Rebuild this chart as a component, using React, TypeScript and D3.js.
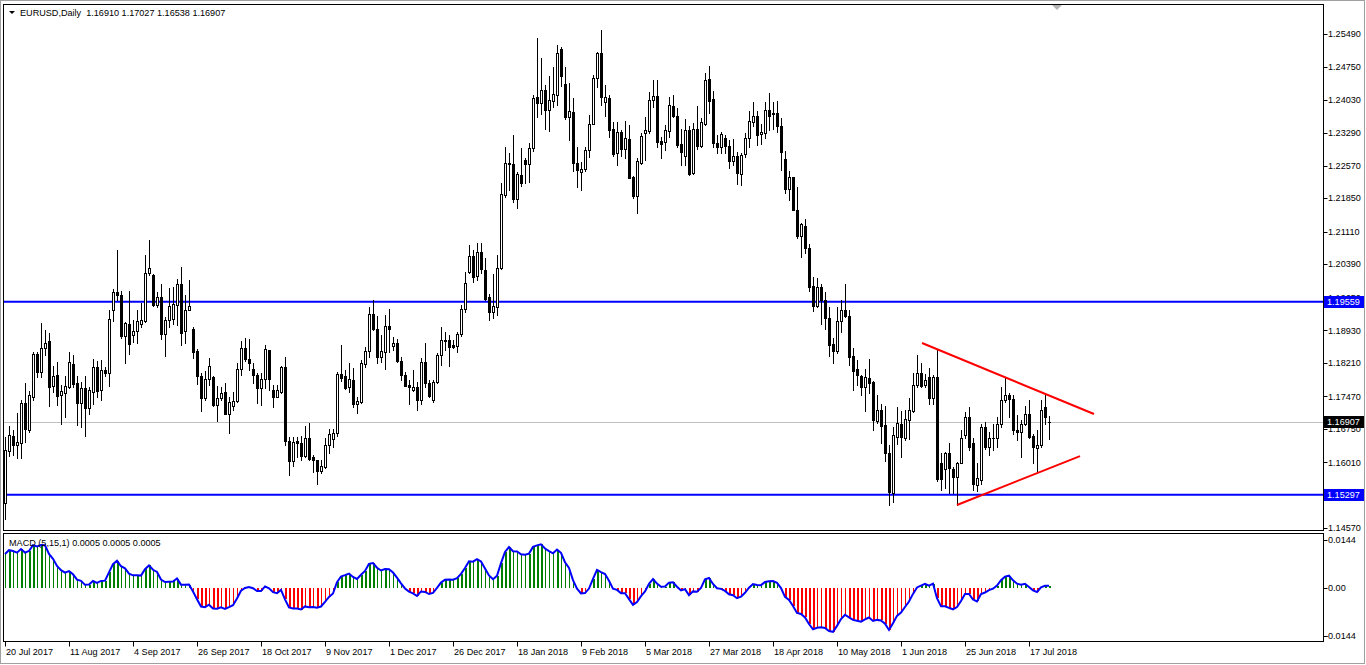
import React from 'react';
import * as d3 from 'd3';

// ---- Daily EURUSD candles (20 Jul 2017 .. 24 Jul 2018) ----
const OPEN = [
1.1512,1.1627,1.1659,1.1639,1.1645,1.1732,1.1673,1.1745,1.1841,1.1800,
1.1855,1.1869,1.1771,1.1794,1.1751,1.1754,1.1768,1.1818,1.1776,1.1732,
1.1765,1.1721,1.1756,1.1811,1.1761,1.1805,1.1798,1.1939,1.1977,1.1971,
1.1881,1.1907,1.1882,1.1891,1.1908,1.1914,1.2019,1.2015,1.1950,1.1966,
1.1885,1.1916,1.1917,1.1949,1.1995,1.1892,1.1939,1.1897,1.1848,1.1792,
1.1743,1.1785,1.1789,1.1729,1.1744,1.1756,1.1709,1.1726,1.1737,1.1807,
1.1855,1.1829,1.1807,1.1794,1.1765,1.1785,1.1849,1.1762,1.1746,1.1757,
1.1811,1.1649,1.1605,1.1648,1.1645,1.1615,1.1656,1.1612,1.1606,1.1583,
1.1591,1.1639,1.1653,1.1665,1.1796,1.1791,1.1768,1.1783,1.1731,1.1735,
1.1818,1.1847,1.1929,1.1895,1.1835,1.1846,1.1902,1.1859,1.1864,1.1826,
1.1794,1.1772,1.1762,1.1768,1.1740,1.1824,1.1776,1.1740,1.1779,1.1838,
1.1870,1.1872,1.1860,1.1858,1.1884,1.1941,1.2022,1.2057,1.2013,1.2065,
1.2026,1.1967,1.1934,1.1945,1.2030,1.2192,1.2263,1.2260,1.2184,1.2236,
1.2269,1.2260,1.2295,1.2408,1.2395,1.2424,1.2381,1.2400,1.2413,1.2514,
1.2437,1.2365,1.2376,1.2262,1.2244,1.2249,1.2291,1.2350,1.2450,1.2505,
1.2398,1.2406,1.2338,1.2284,1.2332,1.2294,1.2315,1.2232,1.2190,1.2262,
1.2328,1.2333,1.2402,1.2411,1.2312,1.2310,1.2334,1.2389,1.2366,1.2304,
1.2279,1.2336,1.2240,1.2338,1.2301,1.2348,1.2448,1.2404,1.2306,1.2299,
1.2319,1.2300,1.2268,1.2278,1.2238,1.2283,1.2319,1.2354,1.2367,1.2326,
1.2330,1.2380,1.2374,1.2374,1.2345,1.2272,1.2205,1.2231,1.2160,1.2102,
1.2123,1.2074,1.1991,1.1947,1.1988,1.1960,1.1921,1.1863,1.1848,1.1914,
1.1939,1.1924,1.1836,1.1807,1.1792,1.1767,1.1787,1.1779,1.1693,1.1718,
1.1684,1.1622,1.1533,1.1658,1.1686,1.1656,1.1695,1.1715,1.1772,1.1798,
1.1772,1.1790,1.1743,1.1789,1.1600,1.1586,1.1621,1.1586,1.1569,1.1600,
1.1661,1.1702,1.1645,1.1552,1.1563,1.1680,1.1636,1.1656,1.1654,1.1687,
1.1739,1.1750,1.1742,1.1673,1.1669,1.1686,1.1708,1.1659,1.1634,1.1639,
1.1724,1.16910];

const HIGH = [
1.1658,1.1682,1.1673,1.1711,1.1739,1.1777,1.1759,1.1846,1.1846,1.1910,
1.1894,1.1886,1.1814,1.1823,1.1772,1.1791,1.1846,1.1838,1.1791,1.1779,
1.1791,1.1768,1.1830,1.1825,1.1827,1.1813,1.1939,1.1984,1.2071,1.1980,
1.1912,1.1980,1.1916,1.1939,1.1953,1.2059,1.2093,1.2018,1.1978,1.1995,
1.1922,1.1986,1.1989,1.2006,1.2034,1.1971,1.2004,1.1900,1.1852,1.1798,
1.1802,1.1831,1.1791,1.1770,1.1768,1.1777,1.1746,1.1757,1.1820,1.1870,
1.1877,1.1873,1.1820,1.1798,1.1798,1.1861,1.1850,1.1773,1.1772,1.1814,
1.1835,1.1658,1.1658,1.1658,1.1659,1.1682,1.1689,1.1617,1.1607,1.1607,
1.1654,1.1676,1.1676,1.1801,1.1860,1.1805,1.1820,1.1809,1.1746,1.1827,
1.1857,1.1945,1.1960,1.1925,1.1883,1.1927,1.1940,1.1879,1.1873,1.1835,
1.1801,1.1783,1.1805,1.1779,1.1831,1.1864,1.1783,1.1783,1.1842,1.1900,
1.1890,1.1883,1.1872,1.1890,1.1949,1.2023,1.2082,1.2070,1.2087,1.2085,
1.2052,1.1974,1.2017,1.2059,1.2218,1.2299,1.2284,1.2325,1.2243,1.2295,
1.2273,1.2306,1.2413,1.2538,1.2494,1.2435,1.2455,1.2476,1.2524,1.2520,
1.2476,1.2439,1.2406,1.2299,1.2265,1.2299,1.2369,1.2457,1.2508,1.2557,
1.2435,1.2413,1.2354,1.2354,1.2336,1.2356,1.2347,1.2235,1.2274,1.2328,
1.2365,1.2420,1.2446,1.2446,1.2321,1.2347,1.2409,1.2413,1.2384,1.2338,
1.2359,1.2345,1.2352,1.2389,1.2363,1.2462,1.2478,1.2423,1.2325,1.2332,
1.2325,1.2314,1.2315,1.2288,1.2284,1.2328,1.2378,1.2398,1.2378,1.2350,
1.2397,1.2417,1.2398,1.2400,1.2362,1.2289,1.2246,1.2232,1.2209,1.2131,
1.2138,1.2084,1.2010,1.2008,1.1995,1.1978,1.1945,1.1875,1.1945,1.1960,
1.1995,1.1938,1.1853,1.1827,1.1795,1.1807,1.1829,1.1781,1.1750,1.1730,
1.1726,1.1639,1.1680,1.1724,1.1715,1.1718,1.1743,1.1798,1.1838,1.1820,
1.1796,1.1809,1.1794,1.1851,1.1622,1.1625,1.1645,1.1591,1.1603,1.1673,
1.1713,1.1724,1.1654,1.1600,1.1687,1.1691,1.1669,1.1687,1.1702,1.1768,
1.1790,1.1755,1.1750,1.1706,1.1695,1.1726,1.1739,1.1664,1.1672,1.1740,
1.1750,1.17027];

const LOW = [
1.1477,1.1615,1.1617,1.1610,1.1610,1.1647,1.1669,1.1739,1.1789,1.1790,
1.1838,1.1726,1.1757,1.1729,1.1687,1.1702,1.1765,1.1768,1.1684,1.1680,
1.1660,1.1707,1.1730,1.1746,1.1739,1.1791,1.1770,1.1914,1.1960,1.1877,
1.1821,1.1841,1.1868,1.1866,1.1901,1.1912,1.2015,1.1947,1.1945,1.1873,
1.1837,1.1901,1.1908,1.1905,1.1860,1.1864,1.1938,1.1831,1.1774,1.1715,
1.1739,1.1772,1.1725,1.1692,1.1740,1.1708,1.1667,1.1717,1.1735,1.1794,
1.1826,1.1805,1.1777,1.1733,1.1729,1.1765,1.1762,1.1724,1.1745,1.1754,
1.1639,1.1573,1.1594,1.1614,1.1606,1.1612,1.1606,1.1580,1.1553,1.1577,
1.1588,1.1621,1.1636,1.1660,1.1782,1.1763,1.1757,1.1724,1.1711,1.1733,
1.1813,1.1835,1.1894,1.1821,1.1824,1.1807,1.1846,1.1849,1.1824,1.1783,
1.1770,1.1730,1.1760,1.1717,1.1731,1.1768,1.1746,1.1735,1.1776,1.1816,
1.1850,1.1814,1.1855,1.1846,1.1880,1.1934,1.2019,1.2000,1.2004,1.2019,
1.1960,1.1916,1.1921,1.1927,1.2028,1.2188,1.2203,1.2177,1.2164,1.2212,
1.2218,1.2221,1.2289,1.2364,1.2371,1.2337,1.2334,1.2386,1.2391,1.2434,
1.2361,1.2314,1.2246,1.2210,1.2204,1.2246,1.2277,1.2349,1.2431,1.2391,
1.2367,1.2320,1.2278,1.2258,1.2278,1.2273,1.2229,1.2186,1.2153,1.2260,
1.2269,1.2328,1.2386,1.2299,1.2273,1.2291,1.2321,1.2364,1.2299,1.2258,
1.2258,1.2236,1.2238,1.2293,1.2299,1.2347,1.2373,1.2299,1.2284,1.2286,
1.2284,1.2251,1.2258,1.2216,1.2214,1.2277,1.2299,1.2345,1.2302,1.2305,
1.2319,1.2336,1.2339,1.2332,1.2247,1.2196,1.2182,1.2159,1.2096,1.2054,
1.2063,1.1980,1.1936,1.1945,1.1908,1.1897,1.1836,1.1821,1.1842,1.1890,
1.1923,1.1816,1.1762,1.1772,1.1750,1.1715,1.1754,1.1673,1.1689,1.1643,
1.1604,1.1507,1.1514,1.1642,1.1614,1.1650,1.1652,1.1713,1.1768,1.1768,
1.1768,1.1731,1.1731,1.1561,1.1541,1.1544,1.1533,1.1533,1.1507,1.1599,
1.1656,1.1628,1.1540,1.1538,1.1553,1.1630,1.1617,1.1628,1.1636,1.1680,
1.1735,1.1702,1.1664,1.1650,1.1612,1.1684,1.1656,1.1600,1.1577,1.1636,
1.1687,1.16538];

const CLOSE = [
1.1628,1.1661,1.1639,1.1646,1.1732,1.1674,1.1749,1.1840,1.1800,1.1855,
1.1866,1.1768,1.1793,1.1748,1.1759,1.1770,1.1822,1.1774,1.1732,1.1765,
1.1721,1.1761,1.1811,1.1760,1.1805,1.1798,1.1919,1.1977,1.1972,1.1880,
1.1910,1.1862,1.1891,1.1914,1.1916,1.2019,1.2030,1.1950,1.1966,1.1885,
1.1916,1.1947,1.1951,1.1995,1.1888,1.1939,1.1947,1.1846,1.1791,1.1743,
1.1785,1.1815,1.1729,1.1744,1.1755,1.1709,1.1735,1.1737,1.1807,1.1855,
1.1829,1.1820,1.1794,1.1765,1.1785,1.1851,1.1785,1.1746,1.1761,1.1813,
1.1649,1.1605,1.1647,1.1643,1.1615,1.1656,1.1608,1.1606,1.1583,1.1593,
1.1639,1.1664,1.1665,1.1796,1.1787,1.1765,1.1785,1.1731,1.1737,1.1820,
1.1847,1.1929,1.1895,1.1835,1.1847,1.1902,1.1897,1.1864,1.1826,1.1794,
1.1771,1.1768,1.1768,1.1740,1.1824,1.1776,1.1748,1.1779,1.1838,1.1872,
1.1872,1.1857,1.1857,1.1884,1.1941,1.1997,1.2057,1.2011,1.2067,1.2028,
1.1963,1.1934,1.1946,1.2030,1.2194,1.2262,1.2260,1.2184,1.2238,1.2219,
1.2260,1.2297,1.2406,1.2396,1.2424,1.2381,1.2402,1.2415,1.2507,1.2454,
1.2365,1.2378,1.2262,1.2247,1.2249,1.2291,1.2350,1.2450,1.2505,1.2409,
1.2408,1.2336,1.2283,1.2332,1.2294,1.2317,1.2230,1.2190,1.2267,1.2322,
1.2336,1.2403,1.2410,1.2310,1.2304,1.2336,1.2391,1.2367,1.2302,1.2288,
1.2336,1.2238,1.2338,1.2301,1.2354,1.2446,1.2400,1.2308,1.2299,1.2326,
1.2301,1.2268,1.2278,1.2240,1.2280,1.2319,1.2356,1.2367,1.2325,1.2331,
1.2380,1.2367,1.2370,1.2345,1.2288,1.2205,1.2231,1.2160,1.2102,1.2129,
1.2074,1.1989,1.1947,1.1988,1.1960,1.1921,1.1860,1.1848,1.1914,1.1939,
1.1925,1.1835,1.1804,1.1794,1.1767,1.1789,1.1776,1.1695,1.1718,1.1682,
1.1622,1.1536,1.1661,1.1689,1.1658,1.1696,1.1717,1.1772,1.1798,1.1770,
1.1783,1.1743,1.1789,1.1564,1.1564,1.1621,1.1588,1.1569,1.1600,1.1656,
1.1701,1.1636,1.1553,1.1566,1.1680,1.1636,1.1656,1.1654,1.1687,1.1740,
1.1750,1.1741,1.1673,1.1669,1.1686,1.1709,1.1658,1.1636,1.1639,1.1718,
1.1701,1.16907];

const TIME_LABELS = ['20 Jul 2017', '11 Aug 2017', '4 Sep 2017', '26 Sep 2017', '18 Oct 2017',
  '9 Nov 2017', '1 Dec 2017', '26 Dec 2017', '18 Jan 2018', '9 Feb 2018', '5 Mar 2018',
  '27 Mar 2018', '18 Apr 2018', '10 May 2018', '1 Jun 2018', '25 Jun 2018', '17 Jul 2018'];
const TIME_LABEL_BARS = [0, 16, 32, 48, 64, 80, 96, 112, 128, 144, 160, 176, 192, 208, 224, 240, 256];

const PRICE_TICKS = [1.25490, 1.24750, 1.24030, 1.23290, 1.22570, 1.21850, 1.21110, 1.20390,
  1.19650, 1.18930, 1.18210, 1.17470, 1.16750, 1.16010, 1.15290, 1.14570];
const LEVELS = [1.19559, 1.15297];
const LAST_PRICE = 1.16907;
const HEADER = 'EURUSD,Daily  1.16910 1.17027 1.16538 1.16907';

// triangle trendlines: [bar, price] end points
const TREND_UPPER = [[229.25, 1.1865], [272.25, 1.1708]];
const TREND_LOWER = [[238, 1.1507], [268.75, 1.1615]];

// MACD(5,15,1) on close; EMA states at the first bar (carried over from earlier history)
const MACD_FAST = 5;
const MACD_SLOW = 15;
const EMA_SEED_FAST = 1.1545;
const EMA_SEED_SLOW = 1.1443;
const MACD_TICKS = [0.0144, 0, -0.0144];
const MACD_LABEL = 'MACD (5,15,1) 0.0005 0.0005 0.0005';

const FONT = "'Liberation Sans', Arial, sans-serif";
const FS = 9.1;

export default function App() {
  const n = CLOSE.length;
  const L = 3.5, R = 1323.5, T = 4.5, B = 530.5;
  const MT = 533.5, MB = 641.5;
  const x = d3.scaleLinear().domain([0, n - 1]).range([5, 5 + 4 * (n - 1)]);
  const y = d3.scaleLinear().domain([1.1457, 1.2549]).range([527.6, 33.5]);
  const ym = d3.scaleLinear().domain([-0.0162, 0.0162]).range([642, 534]);

  const kf = 2 / (MACD_FAST + 1), ks = 2 / (MACD_SLOW + 1);
  let ef = EMA_SEED_FAST, es = EMA_SEED_SLOW;
  const macd = CLOSE.map((c, i) => {
    if (i > 0) { ef += kf * (c - ef); es += ks * (c - es); }
    return ef - es;
  });

  const candles = CLOSE.map((c, i) => {
    const o = OPEN[i], h = HIGH[i], l = LOW[i];
    const cx = Math.round(x(i));
    const yh = Math.round(y(h)), yl = Math.round(y(l));
    const top = Math.round(y(Math.max(o, c)));
    const bot = Math.round(y(Math.min(o, c)));
    const bull = c > o;
    return (
      <g key={i}>
        <line x1={cx + 0.5} x2={cx + 0.5} y1={yh} y2={yl + 1} stroke="#000" strokeWidth={1} />
        {bot - top < 1 ? (
          <line x1={cx - 1} x2={cx + 2} y1={top + 0.5} y2={top + 0.5} stroke="#000" />
        ) : bull ? (
          <rect x={cx - 0.5} y={top + 0.5} width={2} height={bot - top} fill="#fff" stroke="#000" />
        ) : (
          <rect x={cx - 1} y={top} width={3} height={bot - top + 1} fill="#000" />
        )}
      </g>
    );
  });

  const zeroY = ym(0);
  const hist = macd.map((m, i) => {
    const cx = Math.round(x(i));
    const thick = i > 0 && Math.abs(m) > Math.abs(macd[i - 1]);
    const y1 = ym(m);
    return (
      <rect key={i} x={cx} y={Math.min(y1, zeroY)} width={thick ? 2 : 1}
        height={Math.abs(y1 - zeroY)} fill={m >= 0 ? '#008000' : '#ff0000'} />
    );
  });
  const macdLine = d3.line<number>().x((_, i) => x(i)).y((m) => ym(m))(macd) || '';

  const labelBox = (p: number, fill: string, key: string) => {
    const yy = y(p);
    return (
      <g key={key}>
        <rect x={1324} y={Math.round(yy) - 6} width={40} height={12} fill={fill} />
        <text x={1327} y={yy} dy="0.35em" fill="#fff">{p.toFixed(5)}</text>
      </g>
    );
  };

  return (
    <svg width={1366} height={665} style={{ position: 'absolute', left: 0, top: 0, background: '#fff' }}
      fontFamily={FONT} fontSize={FS}>
      <defs>
        <clipPath id="mainClip"><rect x={L} y={T} width={R - L} height={B - T} /></clipPath>
        <clipPath id="macdClip"><rect x={L} y={MT} width={R - L} height={MB - MT} /></clipPath>
      </defs>
      <rect x={0.5} y={0.5} width={1364} height={663} fill="#fff" stroke="#a0a0a0" />

      {/* main price panel */}
      <g clipPath="url(#mainClip)">
        {LEVELS.map((p) => (
          <line key={p} x1={L} x2={R} y1={y(p)} y2={y(p)} stroke="#0000ff" strokeWidth={2} />
        ))}
        <line x1={L} x2={R} y1={Math.round(y(LAST_PRICE)) + 0.5} y2={Math.round(y(LAST_PRICE)) + 0.5}
          stroke="#c0c0c0" strokeWidth={1} />
        <g shapeRendering="crispEdges">{candles}</g>
        {[TREND_UPPER, TREND_LOWER].map((t, k) => (
          <line key={k} x1={x(t[0][0])} y1={y(t[0][1])} x2={x(t[1][0])} y2={y(t[1][1])}
            stroke="#ff0000" strokeWidth={2} />
        ))}
        <polygon points="1052,5 1062,5 1057,10" fill="#b4b4b4" />
      </g>
      <rect x={L} y={T} width={R - L} height={B - T} fill="none" stroke="#000" />
      <polygon points="9,11 15,11 12,14" fill="#000" />
      <text x={20} y={13} dy="0.35em" fill="#000" style={{ whiteSpace: 'pre' }}>{HEADER}</text>

      {/* price axis */}
      {PRICE_TICKS.map((p) => (
        <g key={p}>
          <line x1={R} x2={R + 4} y1={Math.round(y(p)) + 0.5} y2={Math.round(y(p)) + 0.5} stroke="#000" />
          <text x={1328} y={y(p)} dy="0.35em" fill="#000">{p.toFixed(5)}</text>
        </g>
      ))}
      {LEVELS.map((p) => labelBox(p, '#0000ff', 'lv' + p))}
      {labelBox(LAST_PRICE, '#000', 'last')}

      {/* MACD panel */}
      <g clipPath="url(#macdClip)">
        <g shapeRendering="crispEdges">{hist}</g>
        <path d={macdLine} fill="none" stroke="#0000ff" strokeWidth={2} />
      </g>
      <rect x={L} y={MT} width={R - L} height={MB - MT} fill="none" stroke="#000" />
      <text x={9} y={543} dy="0.35em" fill="#000">{MACD_LABEL}</text>
      {MACD_TICKS.map((m) => (
        <g key={m}>
          <line x1={R} x2={R + 4} y1={Math.round(ym(m)) + 0.5} y2={Math.round(ym(m)) + 0.5} stroke="#000" />
          <text x={m < 0 ? 1325 : 1328} y={ym(m)} dy="0.35em" fill="#000">
            {m === 0 ? '0.00' : m.toFixed(4)}
          </text>
        </g>
      ))}

      {/* time axis */}
      {TIME_LABELS.map((lab, k) => {
        const tx = Math.round(x(TIME_LABEL_BARS[k]));
        return (
          <g key={lab}>
            <line x1={tx + 0.5} x2={tx + 0.5} y1={MB} y2={MB + 5} stroke="#000" />
            <text x={tx + 1} y={652} dy="0.35em" fill="#000">{lab}</text>
          </g>
        );
      })}
    </svg>
  );
}
